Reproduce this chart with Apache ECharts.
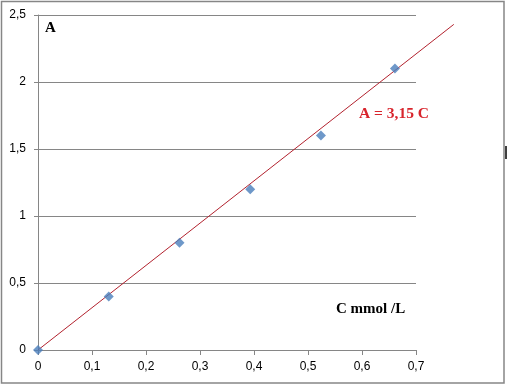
<!DOCTYPE html>
<html>
<head>
<meta charset="utf-8">
<script src="https://cdn.jsdelivr.net/npm/echarts@6/dist/echarts.min.js"></script>
<style>
html,body{margin:0;padding:0;background:#fff;}
#chart{width:507px;height:387px;}
</style>
</head>
<body>
<div id="chart"></div>
<script>
// Measured points
const concentrations = [0, 0.131, 0.262, 0.393, 0.524, 0.661];
const absorbances = [0, 0.4, 0.8, 1.2, 1.6, 2.1];
// Trend line end points (A = 3,15 C), extends past the last tick
const trendX = [0, 0.77];
const trendY = [0, 2.43];
// Axis ticks
const xTicks = [0, 0.1, 0.2, 0.3, 0.4, 0.5, 0.6, 0.7];
const yTicks = [0, 0.5, 1, 1.5, 2, 2.5];
const equationLabel = 'A = 3,15 C';
const yAxisTitle = 'A';
const xAxisTitle = 'C mmol /L';

const fmt = v => String(v).replace('.', ',');
const chart = echarts.init(document.getElementById('chart'));
const gray = '#868686';
const W = 507, left = 38, plotW = 378;
const xMax = xTicks[xTicks.length - 1];
const pxPerUnit = plotW / xMax;
const trendRight = W - left - trendX[1] * pxPerUnit;
const labelFont = {color: '#000', fontSize: 12, fontFamily: 'Liberation Sans, Arial'};
chart.setOption({
  animation: false,
  backgroundColor: '#fff',
  grid: [
    {left: left, right: W - left - plotW, top: 15, bottom: 37, containLabel: false},
    {left: left, right: trendRight, top: 15, bottom: 37, containLabel: false}
  ],
  xAxis: [{
    type: 'value', gridIndex: 0, min: xTicks[0], max: xMax, interval: 0.1,
    axisLine: {show: true, lineStyle: {color: gray, width: 1}},
    axisTick: {show: true, length: 5, lineStyle: {color: gray}},
    splitLine: {show: false},
    axisLabel: Object.assign({formatter: fmt, margin: 11}, labelFont)
  }, {
    type: 'value', gridIndex: 1, min: trendX[0], max: trendX[1], show: false
  }],
  yAxis: [{
    type: 'value', gridIndex: 0, min: yTicks[0], max: yTicks[yTicks.length-1], interval: 0.5,
    axisLine: {show: true, lineStyle: {color: gray, width: 1}},
    axisTick: {show: true, length: 4, lineStyle: {color: gray}},
    splitLine: {show: true, lineStyle: {color: gray, width: 1}},
    axisLabel: Object.assign({formatter: fmt, margin: 12}, labelFont)
  }, {
    type: 'value', gridIndex: 1, min: yTicks[0], max: yTicks[yTicks.length-1], show: false
  }],
  series: [
    {
      type: 'line', xAxisIndex: 1, yAxisIndex: 1, silent: true, symbol: 'none',
      data: trendX.map((x, i) => [x, trendY[i]]),
      lineStyle: {color: '#b2222e', width: 1}, z: 2
    },
    {
      type: 'scatter', xAxisIndex: 0, yAxisIndex: 0, symbol: 'diamond', symbolSize: 10,
      data: concentrations.map((x, i) => [x, absorbances[i]]),
      itemStyle: {color: '#4a7ebb'}, z: 3
    }
  ],
  graphic: [
    {type: 'rect', shape: {x: 1.5, y: 1.5, width: 502.5, height: 381.5}, style: {fill: 'none', stroke: gray, lineWidth: 1.5}, silent: true},
    {type: 'text', left: 45, top: 21, style: {text: yAxisTitle, font: 'bold 15px "Liberation Serif", "Times New Roman", serif', fill: '#000'}},
    {type: 'text', left: 336, top: 302, style: {text: xAxisTitle, font: 'bold 15px "Liberation Serif", "Times New Roman", serif', fill: '#000'}},
    {type: 'text', left: 359, top: 106, style: {text: equationLabel, font: 'bold 15.5px "Liberation Serif", "Times New Roman", serif', fill: '#d8242c'}},
    {type: 'line', shape: {x1: 506, y1: 146, x2: 506, y2: 159}, style: {stroke: '#000', lineWidth: 1.5}}
  ]
});
</script>
</body>
</html>
